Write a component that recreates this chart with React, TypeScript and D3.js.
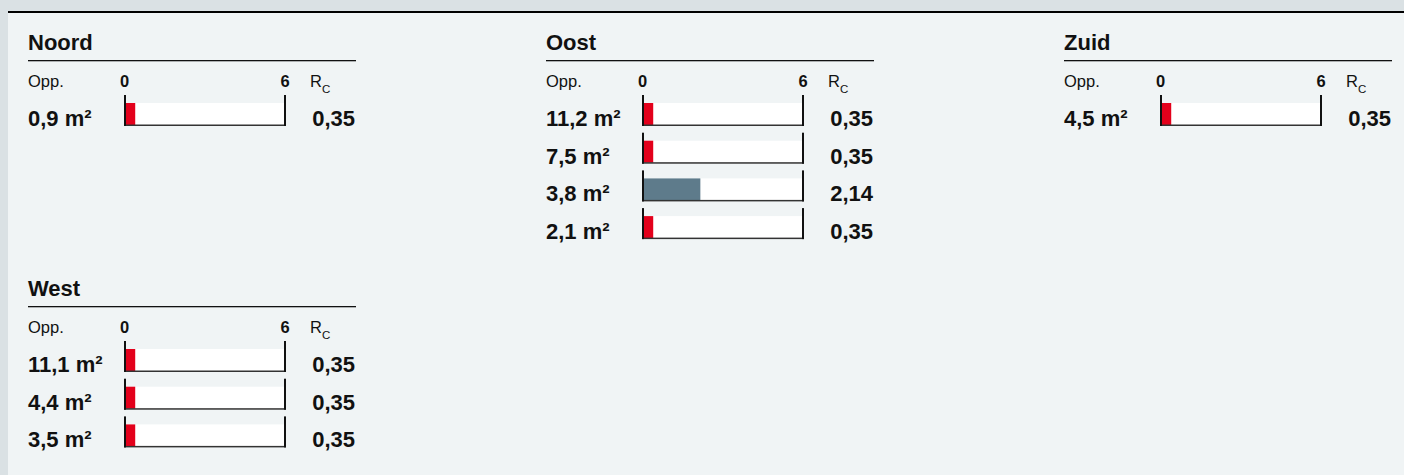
import React from 'react';
import * as d3 from 'd3';

// Gevels met oppervlakte (m²) en Rc-waarde per vlak
const sides = ['Noord', 'Oost', 'Zuid', 'West'];
const areaNoord = [0.9];
const rcNoord = [0.35];
const areaOost = [11.2, 7.5, 3.8, 2.1];
const rcOost = [0.35, 0.35, 2.14, 0.35];
const areaZuid = [4.5];
const rcZuid = [0.35];
const areaWest = [11.1, 4.4, 3.5];
const rcWest = [0.35, 0.35, 0.35];
const scaleTicks = [0, 6];
const rcLimit = 1;

const areas = [areaNoord, areaOost, areaZuid, areaWest];
const rcs = [rcNoord, rcOost, rcZuid, rcWest];

const nl = d3.formatLocale({ decimal: ',', thousands: '.', grouping: [3], currency: ['€', ''] });
const fmtArea = nl.format('.1f');
const fmtRc = nl.format('.2f');

const W = 1404;
const H = 475;
const FONT = '"Liberation Sans", Arial, Helvetica, sans-serif';
const RED = '#e3001b';
const SLATE = '#5e7b8b';
const INK = '#111';

const colX = d3.scalePoint<number>().domain([0, 1, 2]).range([28, 1064]);
const rowY = d3.scalePoint<number>().domain([0, 1]).range([0, 246]);
const rowStep = 37.7;

const Block: React.FC<{ title: string; area: number[]; rc: number[]; x0: number; y0: number }> = ({ title, area, rc, x0, y0 }) => {
  const x = d3.scaleLinear().domain([scaleTicks[0], scaleTicks[1]]).range([x0 + 98, x0 + 256]);
  return (
    <g fontFamily={FONT} fill={INK}>
      <text x={x0} y={y0 + 50} fontSize={22} fontWeight="bold">{title}</text>
      <rect x={x0} y={y0 + 60} width={328} height={1.3} fill={INK} />
      <text x={x0} y={y0 + 87} fontSize={16.5}>Opp.</text>
      {scaleTicks.map((t) => (
        <text key={t} x={x(t) + (t === 0 ? -1.5 : 1)} y={y0 + 87} fontSize={16.5} fontWeight="bold" textAnchor="middle">{t}</text>
      ))}
      <text x={x0 + 282} y={y0 + 87} fontSize={16.5}>R</text>
      <text x={x0 + 294} y={y0 + 93} fontSize={11.5}>C</text>
      {area.map((a, i) => {
        const b = y0 + 126 + i * rowStep;
        const v = rc[i];
        return (
          <g key={i}>
            <text x={x0} y={b} fontSize={22} fontWeight="bold">{fmtArea(a)} m²</text>
            <rect x={x(0)} y={b - 23} width={x(6) - x(0)} height={22} fill="#fff" />
            <rect x={x(0)} y={b - 23} width={x(v) - x(0)} height={22} fill={v < rcLimit ? RED : SLATE} />
            <rect x={x(0) - 2} y={b - 1.5} width={x(6) - x(0) + 4} height={1.5} fill="#333" />
            <rect x={x(0) - 2} y={b - 31} width={2} height={31} fill={INK} />
            <rect x={x(6)} y={b - 31} width={2} height={31} fill={INK} />
            <text x={x0 + 327} y={b} fontSize={22} fontWeight="bold" textAnchor="end">{fmtRc(v)}</text>
          </g>
        );
      })}
    </g>
  );
};

export default function App() {
  return (
    <div style={{ position: 'absolute', left: 0, top: 0 }}>
      <svg width={W} height={H} style={{ display: 'block' }}>
        <rect x={0} y={0} width={W} height={H} fill="#dae1e4" />
        <rect x={8} y={13} width={W - 8} height={H - 13} fill="#f0f4f5" />
        <rect x={8} y={11} width={W - 8} height={2} fill="#000" />
        {sides.map((s, i) => (
          <Block
            key={s}
            title={s}
            area={areas[i]}
            rc={rcs[i]}
            x0={colX(i % 3) as number}
            y0={rowY(Math.floor(i / 3)) as number}
          />
        ))}
      </svg>
    </div>
  );
}
